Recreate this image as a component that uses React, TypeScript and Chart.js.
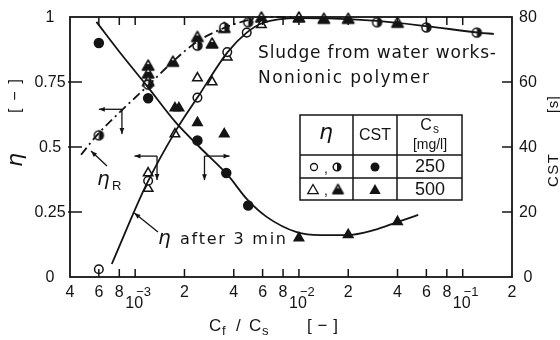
import React, { useEffect, useRef } from "react";
import { Chart, registerables } from "chart.js";
Chart.register(...registerables);

// ---------- data ----------
// CST curve (right axis, s)
const cstCurveX = [5.8e-4, 8.3e-4, 1.18e-3, 1.78e-3, 2.47e-3, 3.67e-3, 4.86e-3, 6.35e-3, 9.7e-3, 1.35e-2, 1.97e-2, 2.9e-2, 3.98e-2, 5.35e-2];
const cstCurveY = [78.5, 68.3, 58.8, 47.4, 40, 31.4, 23.7, 18.5, 13.8, 12.9, 12.9, 14.5, 16.9, 19.1];
// eta after 3 min curve
const etaCurveX = [7.2e-4, 1.17e-3, 1.78e-3, 2.4e-3, 3.67e-3, 4.8e-3, 6e-3, 1e-2, 1.5e-2, 3e-2, 6e-2, 0.125, 0.155];
const etaCurveY = [0.05, 0.355, 0.565, 0.69, 0.865, 0.94, 0.977, 0.996, 0.995, 0.985, 0.965, 0.94, 0.935];
// eta_R curve (dash-dot)
const etaRCurveX = [4.67e-4, 5.85e-4, 8.3e-4, 1.17e-3, 1.69e-3, 2.37e-3, 3.5e-3, 4.86e-3, 5.9e-3, 1e-2];
const etaRCurveY = [0.47, 0.546, 0.642, 0.73, 0.827, 0.904, 0.958, 0.988, 1.0, 1.0];

// markers
const openCircleX = [6e-4, 1.2e-3, 2.4e-3, 3.65e-3, 4.8e-3];
const openCircleY = [0.03, 0.37, 0.69, 0.865, 0.94];
const openTriX = [1.2e-3, 1.2e-3, 1.75e-3, 2.4e-3, 2.95e-3, 3.65e-3, 5.9e-3];
const openTriY = [0.40, 0.34, 0.55, 0.765, 0.75, 0.845, 0.97];
const halfCircleX = [6e-4, 1.2e-3, 2.4e-3, 3.5e-3, 4.9e-3, 3e-2, 6e-2, 0.122];
const halfCircleY = [0.545, 0.74, 0.89, 0.96, 0.98, 0.98, 0.96, 0.94];
const halfTriX = [1.2e-3, 1.2e-3, 1.2e-3, 1.7e-3, 2.4e-3, 2.95e-3, 3.5e-3, 5.9e-3, 1e-2, 1.42e-2, 2e-2, 4e-2];
const halfTriY = [0.815, 0.785, 0.755, 0.83, 0.925, 0.9, 0.96, 1.0, 1.0, 0.995, 0.995, 0.98];
const cst250X = [6e-4, 1.2e-3, 2.4e-3, 3.6e-3, 4.9e-3];
const cst250Y = [72, 55, 42, 32, 22];
const cst500X = [1.75e-3, 1.85e-3, 2.4e-3, 3.5e-3, 1e-2, 2e-2, 4e-2];
const cst500Y = [52, 52, 47.5, 44, 12, 13, 17];

// axes
const X_MIN = 4e-4;
const X_MAX = 0.2;
const xTickValues = [6e-4, 8e-4, 1e-3, 2e-3, 4e-3, 6e-3, 8e-3, 1e-2, 2e-2, 4e-2, 6e-2, 8e-2, 1e-1];
const xMinorLabelValues = [4e-4, 6e-4, 8e-4, 2e-3, 4e-3, 6e-3, 8e-3, 2e-2, 4e-2, 6e-2, 8e-2, 2e-1];
const xMinorLabels = ["4", "6", "8", "2", "4", "6", "8", "2", "4", "6", "8", "2"];
const xDecadeValues = [1e-3, 1e-2, 1e-1];
const xDecadeExps = ["\u22123", "\u22122", "\u22121"];
const etaTickValues = [0, 0.25, 0.5, 0.75, 1];
const etaTickLabels = ["0", "0.25", "0.5", "0.75", "1"];
const cstTickValues = [0, 20, 40, 60, 80];
const cstTickLabels = ["0", "20", "40", "60", "80"];

// annotation arrows (corner, horizontal end, vertical end) in data units
const arrowsEtaR = { x: 8.3e-4, y: 0.645, xEnd: 6e-4, yEnd: 0.55 };
const arrowsEta = { x: 1.36e-3, y: 0.465, xEnd: 9.9e-4, yEnd: 0.373 };
const arrowsCst = { x: 2.65e-3, y: 37.2, xEnd: 3.77e-3, yEnd: 29.8 };

const INK = "#141414";
const FONT = '"Liberation Sans", Arial, sans-serif';
const DJ = '"DejaVu Sans", sans-serif';

const pts = (xs: number[], ys: number[]) => xs.map((x, i) => ({ x, y: ys[i] }));

function halfCircleImg(r: number) {
  const s = Math.ceil(r * 2 + 4);
  const c = document.createElement("canvas");
  c.width = s; c.height = s;
  const g = c.getContext("2d")!;
  const cx = s / 2, cy = s / 2;
  g.fillStyle = "#fff";
  g.beginPath(); g.arc(cx, cy, r, 0, Math.PI * 2); g.fill();
  g.fillStyle = INK;
  g.beginPath(); g.moveTo(cx, cy); g.arc(cx, cy, r, -Math.PI / 2, Math.PI / 2); g.closePath(); g.fill();
  g.strokeStyle = INK; g.lineWidth = 1.5;
  g.beginPath(); g.arc(cx, cy, r, 0, Math.PI * 2); g.stroke();
  return c;
}
function triPath(g: CanvasRenderingContext2D, cx: number, cy: number, r: number) {
  g.beginPath();
  g.moveTo(cx, cy - r);
  g.lineTo(cx + r * 0.95, cy + r * 0.65);
  g.lineTo(cx - r * 0.95, cy + r * 0.65);
  g.closePath();
}
function halfTriImg(r: number) {
  const s = Math.ceil(r * 2 + 4);
  const c = document.createElement("canvas");
  c.width = s; c.height = s;
  const g = c.getContext("2d")!;
  const cx = s / 2, cy = s / 2 + 1;
  g.fillStyle = "#fff"; triPath(g, cx, cy, r); g.fill();
  g.save(); triPath(g, cx, cy, r); g.clip();
  g.fillStyle = INK; g.fillRect(0, cy - r * 0.35, s, s); g.restore();
  g.strokeStyle = INK; g.lineWidth = 1.6; g.lineJoin = "round"; triPath(g, cx, cy, r); g.stroke();
  return c;
}

function arrow(ctx: CanvasRenderingContext2D, x1: number, y1: number, x2: number, y2: number, size = 6) {
  ctx.beginPath(); ctx.moveTo(x1, y1); ctx.lineTo(x2, y2); ctx.stroke();
  const a = Math.atan2(y2 - y1, x2 - x1);
  ctx.beginPath();
  ctx.moveTo(x2, y2);
  ctx.lineTo(x2 - size * Math.cos(a) + size * 0.4 * Math.sin(a), y2 - size * Math.sin(a) - size * 0.4 * Math.cos(a));
  ctx.lineTo(x2 - size * Math.cos(a) - size * 0.4 * Math.sin(a), y2 - size * Math.sin(a) + size * 0.4 * Math.cos(a));
  ctx.closePath(); ctx.fill();
}
function fitText(ctx: CanvasRenderingContext2D, text: string, x: number, y: number, width: number) {
  (ctx as any).letterSpacing = "0px";
  ctx.textAlign = "left";
  const w = ctx.measureText(text).width;
  const ls = (width - w) / Math.max(1, text.length - 1);
  (ctx as any).letterSpacing = ls + "px";
  ctx.fillText(text, x, y);
  (ctx as any).letterSpacing = "0px";
}

const decoPlugin = {
  id: "deco",
  afterDatasetsDraw(chart: any) {
    const { ctx, chartArea: a, scales } = chart;
    const xs = scales.x, ys = scales.y, y2 = scales.y2;
    const X = (v: number) => xs.getPixelForValue(v);
    const Y = (v: number) => ys.getPixelForValue(v);
    const Y2 = (v: number) => y2.getPixelForValue(v);
    ctx.save();
    ctx.strokeStyle = INK; ctx.fillStyle = INK;
    ctx.lineWidth = 1.8;
    ctx.strokeRect(a.left, a.top, a.right - a.left, a.bottom - a.top);
    ctx.lineWidth = 1.5;
    const seg = (x1: number, y1: number, x2: number, y2_: number) => { ctx.beginPath(); ctx.moveTo(x1, y1); ctx.lineTo(x2, y2_); ctx.stroke(); };
    for (const v of xTickValues) {
      const px = X(v);
      seg(px, a.bottom, px, a.bottom - 8);
      seg(px, a.top, px, a.top + 8);
    }
    for (const v of etaTickValues.slice(1, -1)) seg(a.left - 2, Y(v), a.left + 12, Y(v));
    for (const v of cstTickValues.slice(1, -1)) seg(a.right - 10, Y2(v), a.right, Y2(v));

    // tick labels
    ctx.textBaseline = "middle";
    ctx.font = `16px ${FONT}`;
    ctx.textAlign = "center";
    etaTickValues.forEach((v, i) => ctx.fillText(etaTickLabels[i], 50, Y(v) + 1));
    cstTickValues.forEach((v, i) => ctx.fillText(cstTickLabels[i], 528, Y2(v) + 1));
    xMinorLabelValues.forEach((v, i) => ctx.fillText(xMinorLabels[i], X(v), a.bottom + 16));
    xDecadeValues.forEach((v, i) => {
      ctx.font = `16px ${FONT}`; ctx.textAlign = "center";
      ctx.fillText("10", X(v) - 1, a.bottom + 27);
      ctx.font = `13px ${FONT}`; ctx.textAlign = "left";
      ctx.fillText(xDecadeExps[i], X(v) + 1, a.bottom + 15);
    });

    // axis titles
    ctx.textBaseline = "alphabetic";
    ctx.textAlign = "left";
    ctx.font = `17px ${FONT}`;
    ctx.fillText("C", 209, 331);
    ctx.font = `13px ${FONT}`; ctx.fillText("f", 222, 335);
    ctx.font = `17px ${FONT}`; ctx.fillText("/", 236, 331);
    ctx.font = `17px ${FONT}`; ctx.fillText("C", 249, 331);
    ctx.font = `13px ${FONT}`; ctx.fillText("s", 262, 335);
    ctx.font = `17px ${FONT}`; fitText(ctx, "[\u2212]", 307, 331, 31);

    // left title (rotated)
    ctx.save();
    ctx.translate(22, 0); ctx.rotate(-Math.PI / 2);
    ctx.font = `italic 22px ${DJ}`; ctx.textAlign = "center";
    ctx.fillText("\u03b7", -160, 0);
    ctx.font = `16px ${FONT}`;
    fitText(ctx, "[\u2212]", -113, -2, 34);
    ctx.restore();
    // right title
    ctx.save();
    ctx.translate(558, 0); ctx.rotate(-Math.PI / 2);
    ctx.font = `15px ${FONT}`;
    fitText(ctx, "CST", -187, 0, 33);
    fitText(ctx, "[s]", -113, 0, 17);
    ctx.restore();

    // annotation texts
    ctx.font = `17px ${DJ}`;
    fitText(ctx, "Sludge from water works-", 258, 58, 238);
    fitText(ctx, "Nonionic polymer", 258, 83, 171);
    ctx.font = `italic 20px ${DJ}`;
    ctx.fillText("\u03b7", 158, 244);
    ctx.font = `16px ${DJ}`;
    fitText(ctx, "after 3 min", 180, 244, 106);
    ctx.font = `italic 20px ${DJ}`;
    ctx.fillText("\u03b7", 97, 185);
    ctx.font = `13px ${FONT}`;
    ctx.fillText("R", 112, 190);

    // pointer arrows
    ctx.lineWidth = 1.3;
    arrow(ctx, 107, 166, X(etaRCurveX[1]) - 6, Y(etaRCurveY[1]) + 16, 6);
    arrow(ctx, 158, 232, X(etaCurveX[1]) - 12, Y(0.25) + 1, 6);

    // reading arrows
    const reading = (c: { x: number; y: number; xEnd: number; yEnd: number }, yf: (v: number) => number) => {
      const cx = X(c.x), cy = yf(c.y);
      arrow(ctx, cx, cy, X(c.xEnd), cy, 6);
      arrow(ctx, cx, cy, cx, yf(c.yEnd), 6);
    };
    reading(arrowsEtaR, Y);
    reading(arrowsEta, Y);
    reading(arrowsCst, Y2);

    // legend table
    const tx = [300, 353, 397, 462];
    const ty = [115, 155, 178, 200];
    ctx.lineWidth = 1.5;
    ctx.strokeRect(tx[0], ty[0], tx[3] - tx[0], ty[3] - ty[0]);
    seg(tx[1], ty[0], tx[1], ty[3]);
    seg(tx[2], ty[0], tx[2], ty[3]);
    seg(tx[0], ty[1], tx[3], ty[1]);
    seg(tx[0], ty[2], tx[3], ty[2]);
    ctx.textAlign = "center"; ctx.textBaseline = "middle";
    ctx.font = `italic 22px ${DJ}`;
    ctx.fillText("\u03b7", 326, 133);
    ctx.font = `16px ${FONT}`;
    ctx.fillText("CST", 375, 136);
    ctx.font = `16px ${FONT}`;
    ctx.fillText("C", 426, 126);
    ctx.font = `12px ${FONT}`;
    ctx.fillText("s", 436, 130);
    ctx.font = `14px ${FONT}`;
    ctx.fillText("[mg/l]", 430, 145);
    ctx.font = `18px ${FONT}`;
    ctx.fillText("250", 430, 167);
    ctx.fillText("500", 430, 190);
    // row symbols
    ctx.lineWidth = 1.3;
    const r1 = 167, r2 = 189;
    ctx.beginPath(); ctx.arc(314, r1, 3.5, 0, Math.PI * 2); ctx.stroke();
    ctx.font = `14px ${FONT}`; ctx.fillText(",", 326, r1 + 2);
    const hc = halfCircleImg(3.8); ctx.drawImage(hc, 337 - hc.width / 2, r1 - hc.height / 2);
    ctx.beginPath(); ctx.arc(375, r1, 4.5, 0, Math.PI * 2); ctx.fill();
    triPath(ctx, 313, r2 + 1, 5.5); ctx.stroke();
    ctx.fillText(",", 326, r2 + 2);
    const ht = halfTriImg(5.5); ctx.drawImage(ht, 338 - ht.width / 2, r2 - ht.height / 2);
    triPath(ctx, 375, r2 + 1, 6); ctx.fill();
    ctx.restore();
  },
};

export default function App() {
  const ref = useRef<HTMLCanvasElement>(null);
  useEffect(() => {
    const hc = halfCircleImg(4.5);
    const ht = halfTriImg(6);
    const curve = (xs: number[], ys: number[], axis: string, dash: number[] = []) => ({
      type: "line" as const,
      data: pts(xs, ys),
      yAxisID: axis,
      borderColor: INK,
      borderWidth: 1.8,
      borderDash: dash,
      pointRadius: 0,
      cubicInterpolationMode: "monotone" as const,
      fill: false,
      clip: false as any,
    });
    const marks = (xs: number[], ys: number[], axis: string, style: any, bg: string, r: number) => ({
      type: "line" as const,
      data: pts(xs, ys),
      yAxisID: axis,
      showLine: false,
      pointStyle: style,
      pointRadius: r,
      pointBackgroundColor: bg,
      pointBorderColor: INK,
      pointBorderWidth: 1.5,
      clip: false as any,
    });
    const chart = new Chart(ref.current!, {
      type: "line",
      data: {
        datasets: [
          curve(cstCurveX, cstCurveY, "y2"),
          curve(etaCurveX, etaCurveY, "y"),
          curve(etaRCurveX, etaRCurveY, "y", [9, 4, 2, 4]),
          marks(cst250X, cst250Y, "y2", "circle", INK, 4.5),
          marks(cst500X, cst500Y, "y2", "triangle", INK, 5.5),
          marks(openCircleX, openCircleY, "y", "circle", "#fff", 4.3),
          marks(openTriX, openTriY, "y", "triangle", "#fff", 5.5),
          marks(halfCircleX, halfCircleY, "y", hc, INK, 4.5),
          marks(halfTriX, halfTriY, "y", ht, INK, 6),
        ] as any,
      },
      options: {
        responsive: false,
        animation: false,
        devicePixelRatio: 1,
        layout: { padding: { left: 70, right: 48, top: 17, bottom: 63 } },
        plugins: { legend: { display: false }, tooltip: { enabled: false } },
        scales: {
          x: { type: "logarithmic", min: X_MIN, max: X_MAX, display: false },
          y: { type: "linear", min: 0, max: 1, display: false },
          y2: { type: "linear", min: 0, max: 80, display: false },
        },
      } as any,
      plugins: [decoPlugin],
    });
    return () => chart.destroy();
  }, []);
  return (
    <div style={{ position: "fixed", left: 0, top: 0, width: 560, height: 340, background: "#fff" }}>
      <canvas ref={ref} width={560} height={340} />
    </div>
  );
}
